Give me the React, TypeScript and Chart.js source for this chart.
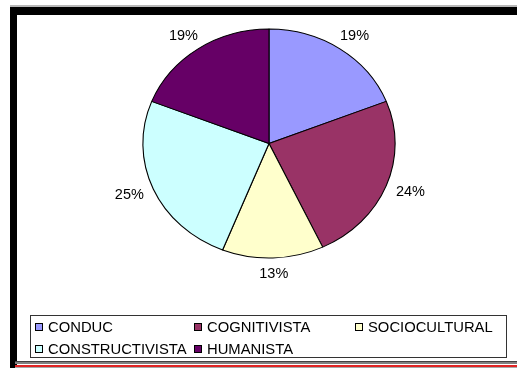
import React, { useEffect, useRef } from "react";
import { Chart, registerables } from "chart.js";
Chart.register(...registerables);

const categories = ["CONDUC", "COGNITIVISTA", "SOCIOCULTURAL", "CONSTRUCTIVISTA", "HUMANISTA"];
const values = [19, 24, 13, 25, 19];
const percentLabels = ["19%", "24%", "13%", "25%", "19%"];
const colors = ["#9999FF", "#993366", "#FFFFCC", "#CCFFFF", "#660066"];

const FONT = '"Liberation Sans", Arial, sans-serif';
const X_STRETCH = 125.8 / 114.2;
const LEGEND_COLS = [35, 194, 355];
const LEGEND_ROWS = [327, 349];

const framePlugin = {
  id: "frame",
  beforeDraw(chart: any) {
    const ctx = chart.ctx;
    ctx.save();
    ctx.fillStyle = "#ffffff";
    ctx.fillRect(0, 0, 517, 371);
    ctx.fillStyle = "#b8b8b8";
    ctx.fillRect(10, 5, 507, 2);
    ctx.fillStyle = "#000000";
    ctx.fillRect(10, 7, 507, 8);
    ctx.fillRect(10, 7, 7, 361);
    ctx.fillStyle = "#404040";
    ctx.fillRect(15, 361, 502, 1);
    ctx.fillStyle = "#808080";
    ctx.fillRect(15, 362, 502, 2);
    ctx.fillStyle = "#e02424";
    ctx.fillRect(15, 365, 502, 2);
    ctx.fillStyle = "#a8a8a8";
    ctx.fillRect(15, 367, 502, 1);
    ctx.restore();
  },
};

const stretchPlugin = {
  id: "stretch",
  beforeDatasetsDraw(chart: any) {
    const arc = chart.getDatasetMeta(0).data[0];
    const ctx = chart.ctx;
    ctx.save();
    ctx.translate(arc.x, arc.y);
    ctx.scale(X_STRETCH, 1);
    ctx.translate(-arc.x, -arc.y);
  },
  afterDatasetsDraw(chart: any) {
    chart.ctx.restore();
  },
};

const labelsPlugin = {
  id: "labels",
  afterDraw(chart: any) {
    const ctx = chart.ctx;
    const meta = chart.getDatasetMeta(0);
    ctx.save();
    ctx.font = `14.5px ${FONT}`;
    ctx.fillStyle = "#000000";
    ctx.textAlign = "center";
    ctx.textBaseline = "middle";
    meta.data.forEach((arc: any, i: number) => {
      const a = (arc.startAngle + arc.endAngle) / 2;
      const ry = arc.outerRadius;
      const rx = ry * X_STRETCH;
      const x = arc.x + Math.cos(a) * (rx + 26);
      const y = arc.y + Math.sin(a) * (ry + 16);
      ctx.fillText(percentLabels[i], x, y);
    });

    // legend
    ctx.strokeStyle = "#333333";
    ctx.lineWidth = 1;
    ctx.strokeRect(30.5, 315.5, 476, 42);
    ctx.textAlign = "left";
    ctx.font = `14.8px ${FONT}`;
    categories.forEach((c, i) => {
      const col = i % 3;
      const row = Math.floor(i / 3);
      const x = LEGEND_COLS[col];
      const y = LEGEND_ROWS[row];
      ctx.fillStyle = colors[i];
      ctx.fillRect(x, y - 4, 8, 8);
      ctx.strokeStyle = "#000000";
      ctx.strokeRect(x + 0.5, y - 3.5, 7, 7);
      ctx.fillStyle = "#000000";
      ctx.fillText(c, x + 13, y + 0.5);
    });
    ctx.restore();
  },
};

export default function App() {
  const ref = useRef<HTMLCanvasElement>(null);
  useEffect(() => {
    if (!ref.current) return;
    const chart = new Chart(ref.current, {
      type: "pie",
      data: {
        labels: categories,
        datasets: [
          {
            data: values,
            backgroundColor: colors,
            borderColor: "#000000",
            borderWidth: 1,
          },
        ],
      },
      options: {
        animation: false,
        responsive: false,
        events: [],
        layout: { padding: { top: 28.5, bottom: 112.5, left: 139, right: 118 } },
        plugins: {
          legend: { display: false },
          tooltip: { enabled: false },
        },
      },
      plugins: [framePlugin, stretchPlugin, labelsPlugin],
    });
    return () => chart.destroy();
  }, []);
  return (
    <div style={{ position: "absolute", left: 0, top: 0, width: 517, height: 371 }}>
      <canvas ref={ref} width={517} height={371} style={{ display: "block" }} />
    </div>
  );
}
